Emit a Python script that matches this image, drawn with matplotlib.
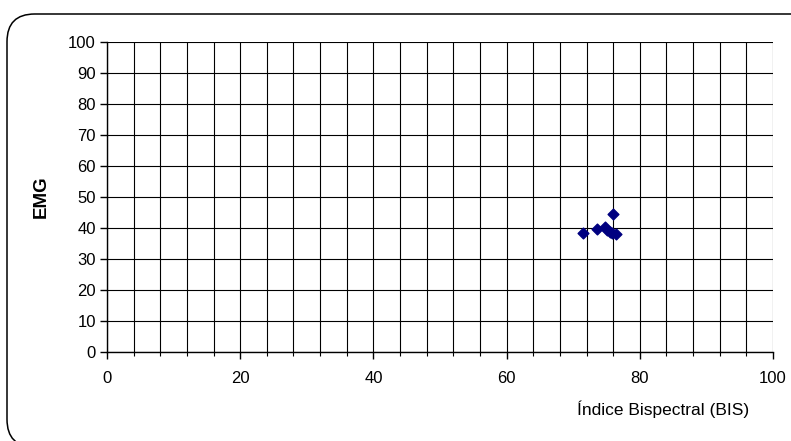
import matplotlib
matplotlib.use('Agg')
import matplotlib.pyplot as plt
from matplotlib.patches import FancyBboxPatch
import numpy as np

plt.rcParams['font.family'] = ['Liberation Sans', 'DejaVu Sans']

# BIS vs EMG readings
bis = [71.5, 73.5, 74.8, 75.0, 75.5, 75.8, 76.0, 76.5]
emg = [38.4, 39.8, 40.3, 39.5, 38.8, 38.5, 44.5, 38.1]

W, H = 791, 441
fig = plt.figure(figsize=(W / 100, H / 100), dpi=100)
ax = fig.add_axes([107 / W, 1 - 352 / H, 666 / W, 310 / H])

# rounded outer frame (runs off the right and bottom edges)
frame = FancyBboxPatch((7 / W, -6 / H), 820 / W, 433 / H,
                       boxstyle='round,pad=0,rounding_size=0.035',
                       transform=fig.transFigure, fill=False,
                       edgecolor='black', lw=1.1, mutation_aspect=W / H)
fig.patches.append(frame)

ax.scatter(bis, emg, marker='D', s=30, color='#000080', zorder=3)

ax.set_xlim(0, 100)
ax.set_ylim(0, 100)
ax.set_xticks(np.arange(0, 101, 20))
ax.set_xticks(np.arange(0, 101, 4), minor=True)
ax.set_yticks(np.arange(0, 101, 10))
ax.grid(True, which='major', axis='y', color='black', lw=0.8)
ax.grid(True, which='minor', axis='x', color='black', lw=0.8)
ax.grid(True, which='major', axis='x', color='black', lw=0.8)

for side in ['top', 'right']:
    ax.spines[side].set_visible(False)
for side in ['left', 'bottom']:
    ax.spines[side].set_linewidth(1.0)

ax.tick_params(axis='both', which='major', length=5, width=1.0,
               labelsize=12, direction='out')
ax.tick_params(axis='x', which='major', pad=9)
ax.tick_params(axis='x', which='minor', length=3, width=0.8, direction='out')
ax.tick_params(axis='y', which='major', pad=3)

ax.set_ylabel('EMG', fontsize=13.5, fontweight='bold', labelpad=13)
fig.text(663 / W, 1 - 409 / H, 'Índice Bispectral (BIS)',
         ha='center', va='center', fontsize=12.5)

fig.savefig('out.png', dpi=100)
